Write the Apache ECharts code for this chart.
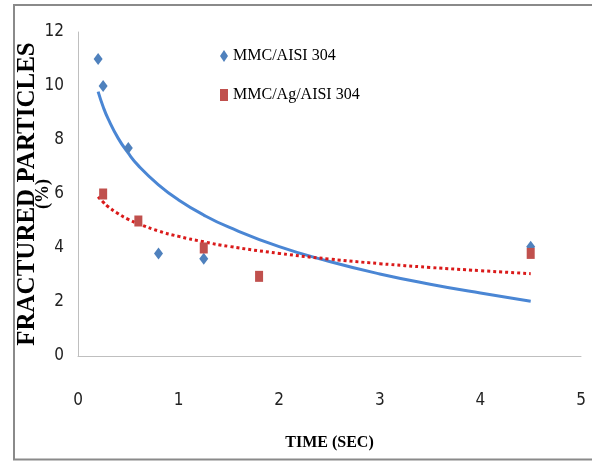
<!DOCTYPE html>
<html>
<head>
<meta charset="utf-8">
<script src="https://cdn.jsdelivr.net/npm/echarts@6/dist/echarts.min.js"></script>
<style>html,body{margin:0;padding:0;background:#fff}#c{width:592px;height:461px}</style>
</head>
<body>
<div id="c"></div>
<script>
// Measured data
var timeBlue = [0.2, 0.25, 0.5, 0.8, 1.25, 4.5];
var pctBlue  = [11, 10, 7.7, 3.8, 3.6, 4.05];
var timeRed  = [0.25, 0.6, 1.25, 1.8, 4.5];
var pctRed   = [6, 5, 4, 2.95, 3.8];
// Trendlines
var trendX     = [0.2, 0.25, 0.3, 0.4, 0.5, 0.6, 0.8, 1.0, 1.25, 1.5, 2.0, 2.5, 3.0, 3.5, 4.0, 4.5];
var trendBlueY = [9.79, 9.23, 8.78, 8.06, 7.51, 7.05, 6.34, 5.78, 5.22, 4.77, 4.05, 3.50, 3.04, 2.66, 2.33, 2.03];
var trendRedY  = [5.90, 5.70, 5.53, 5.27, 5.06, 4.90, 4.63, 4.43, 4.23, 4.06, 3.80, 3.59, 3.42, 3.28, 3.16, 3.05];
var xTicks = [0, 1, 2, 3, 4, 5];
var yTicks = [0, 2, 4, 6, 8, 10, 12];
var seriesNames = ['MMC/AISI 304', 'MMC/Ag/AISI 304'];

function pairs(xs, ys) { return xs.map(function (x, i) { return [x, ys[i]]; }); }

var narrow = "'Liberation Sans Narrow','DejaVu Sans Condensed','Liberation Sans',sans-serif";
var serif = "'Liberation Serif','Times New Roman',serif";

var chart = echarts.init(document.getElementById('c'), null, {renderer: 'canvas'});
chart.setOption({
  animation: false,
  backgroundColor: '#fff',
  grid: {left: 78, right: 11, top: 32, bottom: 105, containLabel: false, outerBoundsMode: 'none'},
  graphic: [{
    type: 'rect', silent: true,
    shape: {x: 14, y: 5, width: 620, height: 454.5},
    style: {fill: 'none', stroke: '#8a8a8a', lineWidth: 2}
  }],
  legend: {
    data: seriesNames,
    orient: 'vertical',
    left: 220, top: 48, padding: 0,
    itemWidth: 8, itemHeight: 12, itemGap: 23,
    textStyle: {fontFamily: serif, fontSize: 16, color: '#000'}
  },
  xAxis: {
    type: 'value', min: xTicks[0], max: xTicks[xTicks.length - 1], interval: 1,
    name: 'TIME (SEC)', nameLocation: 'middle', nameGap: 79, nameMoveOverlap: false,
    nameTextStyle: {fontFamily: serif, fontWeight: 'bold', fontSize: 16, color: '#000'},
    axisLine: {show: true, lineStyle: {color: '#bfbfbf', width: 1}},
    axisTick: {show: false}, splitLine: {show: false},
    axisLabel: {margin: 36, fontFamily: narrow, fontSize: 17, color: '#222'}
  },
  yAxis: {
    type: 'value', min: yTicks[0], max: yTicks[yTicks.length - 1], interval: 2,
    name: '{a|FRACTURED PARTICLES}\n{b|(%)}', nameLocation: 'middle', nameGap: 27, nameRotate: 90,
    nameMoveOverlap: false,
    nameTextStyle: {
      fontFamily: serif, fontWeight: 'bold', color: '#000',
      rich: {
        a: {fontFamily: serif, fontWeight: 'bold', fontSize: 25, lineHeight: 17, color: '#000'},
        b: {fontFamily: serif, fontWeight: 'bold', fontSize: 18, lineHeight: 15, color: '#000'}
      }
    },
    axisLine: {show: true, lineStyle: {color: '#bfbfbf', width: 1}},
    axisTick: {show: false}, splitLine: {show: false},
    axisLabel: {margin: 14, fontFamily: narrow, fontSize: 17, color: '#222'}
  },
  series: [
    {
      name: 'trendBlue', type: 'line', data: pairs(trendX, trendBlueY), smooth: true,
      showSymbol: false, symbol: 'none', z: 2,
      lineStyle: {color: '#4A86D4', width: 3}
    },
    {
      name: 'trendRed', type: 'line', data: pairs(trendX, trendRedY), smooth: true,
      showSymbol: false, symbol: 'none', z: 2,
      lineStyle: {color: '#DA1A1A', width: 3, type: [3, 3]}
    },
    {
      name: seriesNames[0], type: 'scatter', data: pairs(timeBlue, pctBlue),
      symbol: 'diamond', symbolSize: [9, 12], z: 3,
      itemStyle: {color: '#4F81BD', opacity: 1}
    },
    {
      name: seriesNames[1], type: 'scatter', data: pairs(timeRed, pctRed),
      symbol: 'rect', symbolSize: [8, 11], z: 4,
      itemStyle: {color: '#C0504D', opacity: 1}
    }
  ]
});
</script>
</body>
</html>
